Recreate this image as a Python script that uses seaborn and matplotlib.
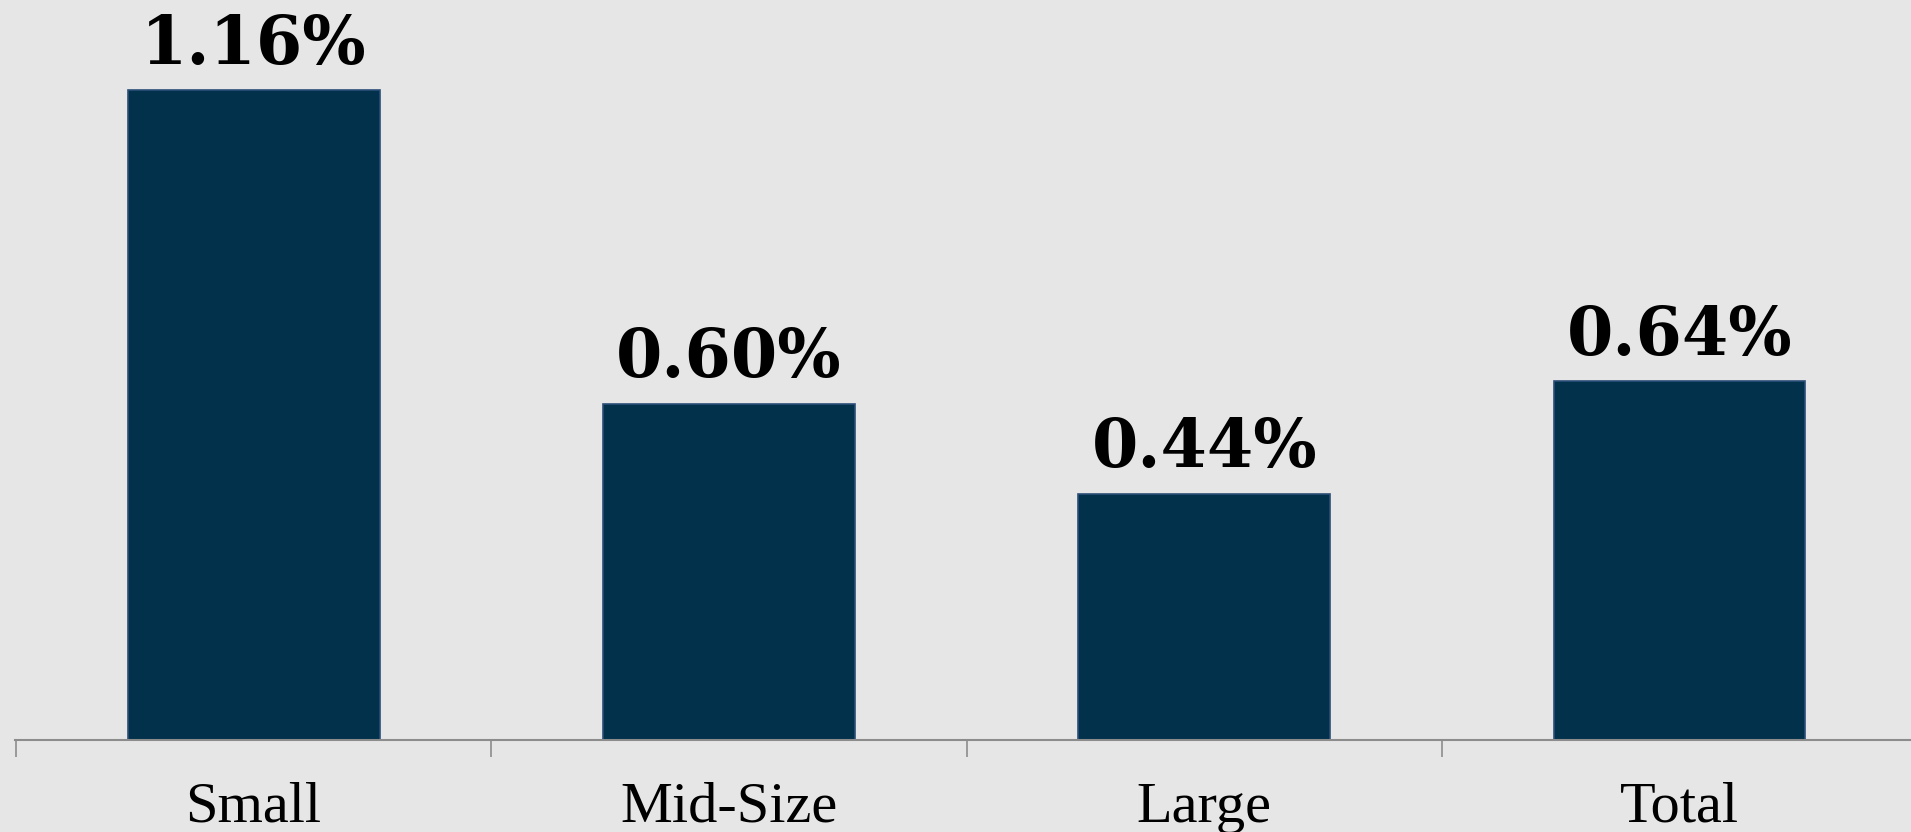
import pandas as pd
import matplotlib.pyplot as plt
import seaborn as sns

# data
categories = ["Small", "Mid-Size", "Large", "Total"]
rates = [1.16, 0.60, 0.44, 0.64]
labels = ["1.16%", "0.60%", "0.44%", "0.64%"]

df = pd.DataFrame({"size": categories, "rate": rates})

bg = "#E6E6E6"
sns.set_theme(style="white")
plt.rcParams["font.family"] = ["Liberation Serif", "DejaVu Serif"]

fig = plt.figure(figsize=(19.11, 8.32), dpi=100, facecolor=bg)
ax = fig.add_axes([0.0076, 0.1106, 1 - 0.0076, 1 - 0.1106])
ax.set_facecolor(bg)

sns.barplot(data=df, x="size", y="rate", color="#01314B", saturation=1,
            width=0.53, edgecolor="#2C4E78", linewidth=1.2, ax=ax)

# value labels above bars
for p, txt in zip(ax.patches, labels):
    ax.annotate(txt, (p.get_x() + p.get_width() / 2, p.get_height()),
                xytext=(0, 19), textcoords="offset points",
                ha="center", va="baseline", fontsize=48, fontweight="bold",
                family="DejaVu Serif", color="black")

ax.set_xlim(-0.503, 3.487)
ax.set_ylim(0, 1.321)
ax.set_xlabel("")
ax.set_ylabel("")
ax.set_yticks([])

for s in ["top", "right", "left"]:
    ax.spines[s].set_visible(False)
ax.spines["bottom"].set_color("#8C8C8C")
ax.spines["bottom"].set_linewidth(1.5)

ax.set_xticks([-0.5, 0.5, 1.5, 2.5], minor=True)
ax.tick_params(axis="x", which="minor", length=12, width=1.2, color="#8C8C8C",
               direction="out", bottom=True)
ax.tick_params(axis="x", which="major", length=0, pad=30, labelsize=42,
               labelcolor="black")

fig.savefig("out.png", dpi=100, facecolor=bg)
